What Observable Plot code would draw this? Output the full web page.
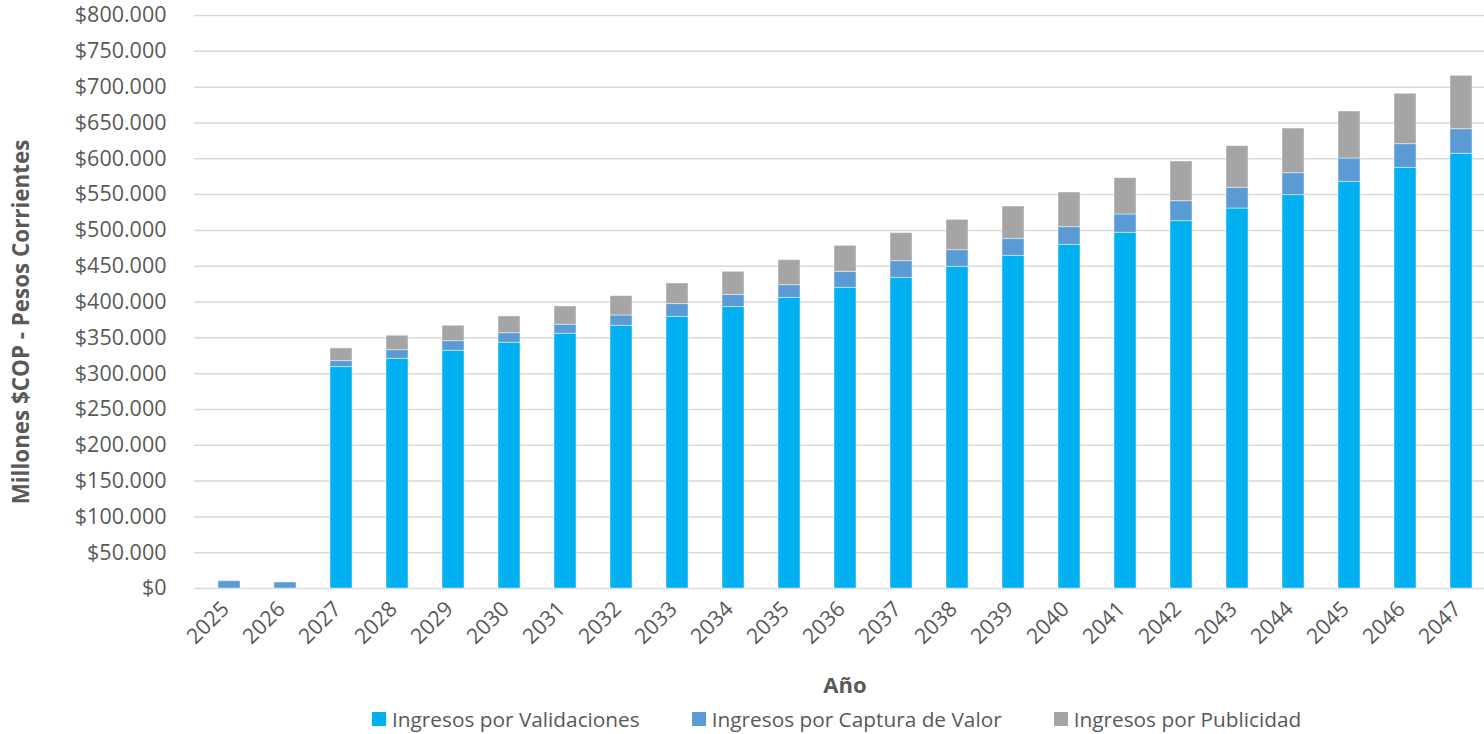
<!DOCTYPE html>
<html><head><meta charset="utf-8">
<script src="https://cdn.jsdelivr.net/npm/d3@7"></script>
<script src="https://cdn.jsdelivr.net/npm/@observablehq/plot@0.6"></script>
<style>
html,body{margin:0;padding:0;background:#fff;overflow:hidden;}
#wrap{position:relative;width:1496px;height:734px;font-family:"Open Sans",sans-serif;color:#595959;}
#chart{position:absolute;left:0;top:0;}
#xtitle{position:absolute;left:194px;width:1302px;top:668px;text-align:center;font-weight:bold;font-size:22px;line-height:32px;}
#legend{position:absolute;left:372px;top:704px;display:flex;align-items:center;font-size:20.8px;line-height:30px;white-space:nowrap;}
#legend .item{display:flex;align-items:center;margin-right:52px;}
#legend .item:last-child{margin-right:0;}
#legend .sw{width:14px;height:14px;margin-right:6px;}
</style>
</head><body>
<div id="wrap"><div id="chart"></div><div id="xtitle">Año</div><div id="legend"></div></div>
<script>
const years = ["2025","2026","2027","2028","2029","2030","2031","2032","2033","2034","2035","2036","2037","2038","2039","2040","2041","2042","2043","2044","2045","2046","2047"];
const validaciones = [0,0,309100,320700,331900,343100,355700,366800,379300,392900,405800,419800,433700,449100,464400,479800,496600,512900,530500,549200,567800,587300,606900];
const captura = [10200,8400,8400,12100,13500,13400,12600,14400,17800,17100,17700,22300,23300,23300,23800,24700,25600,27900,28900,30700,32600,33100,34400];
const publicidad = [0,0,17700,20100,21400,23300,25500,27000,28800,32100,34900,36300,39100,42300,45100,48400,50700,55400,58200,62300,65600,70300,74500];
const series = ["Ingresos por Validaciones","Ingresos por Captura de Valor","Ingresos por Publicidad"];
const colors = ["#00B0F0","#5B9BD5","#A5A5A5"];
const yTicks = [0,50000,100000,150000,200000,250000,300000,350000,400000,450000,500000,550000,600000,650000,700000,750000,800000];

const values = [validaciones, captura, publicidad];
const rows = years.flatMap((y, i) => series.map((s, k) => ({year: y, serie: s, value: values[k][i]})));
const loc = d3.formatLocale({decimal: ",", thousands: ".", grouping: [3], currency: ["$", ""]});
const fmt = loc.format("$,.0f");

const chart = Plot.plot({
  width: 1496, height: 665,
  marginLeft: 194, marginRight: 0, marginTop: 15, marginBottom: 77,
  style: {fontFamily: "'Open Sans', sans-serif", fontSize: "21.5px", color: "#595959", background: "#fff"},
  x: {domain: years, paddingInner: 0.6, paddingOuter: 0.3, label: null},
  y: {domain: [0, 800000], label: null},
  color: {domain: series, range: colors},
  marks: [
    Plot.ruleY(yTicks, {stroke: "#d9d9d9", strokeWidth: 1.5}),
    Plot.barY(rows, {x: "year", y: "value", fill: "serie", stroke: "#ffffff", strokeOpacity: 0.45, strokeWidth: 1}),
    Plot.axisY({ticks: yTicks, tickFormat: fmt, tickSize: 0, tickPadding: 28, fontSize: 21.5, color: "#595959", label: null}),
    Plot.axisX({tickSize: 0, tickRotate: -45, tickPadding: 17, dx: -4, fontSize: 21.5, color: "#595959", label: null})
  ]
});
d3.select(chart).append("text")
  .attr("transform", "translate(23,322) rotate(-90)")
  .attr("text-anchor", "middle")
  .attr("dominant-baseline", "middle")
  .attr("font-weight", "bold")
  .attr("font-size", 22.4)
  .attr("fill", "#595959")
  .text("Millones $COP - Pesos Corrientes");
document.getElementById("chart").appendChild(chart);

const lg = document.getElementById("legend");
series.forEach((s, k) => {
  const it = document.createElement("div"); it.className = "item";
  const sw = document.createElement("div"); sw.className = "sw"; sw.style.background = colors[k];
  const tx = document.createElement("span"); tx.textContent = s;
  it.appendChild(sw); it.appendChild(tx); lg.appendChild(it);
});
</script>
</body></html>
